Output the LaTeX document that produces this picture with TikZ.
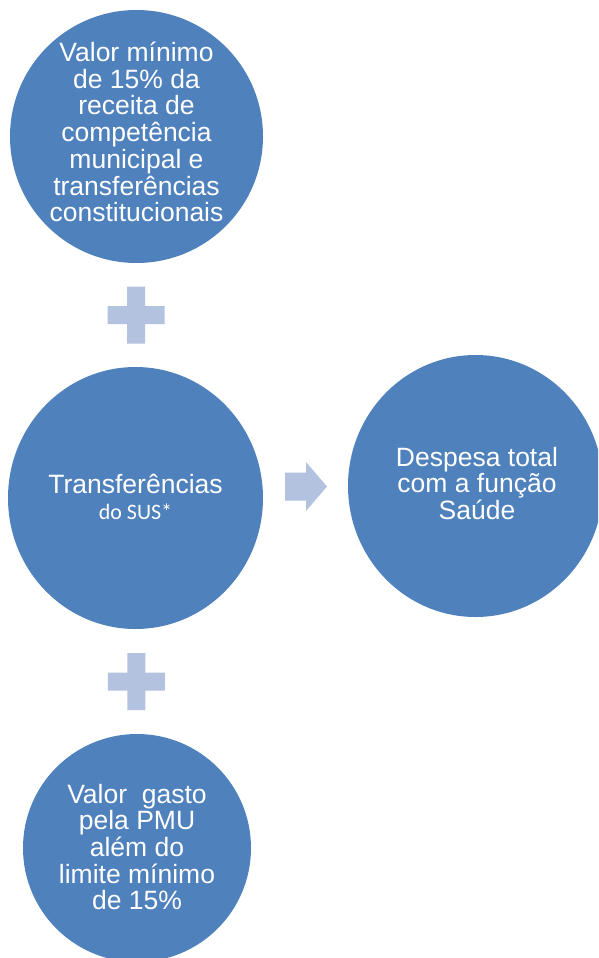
\documentclass[tikz,border=0pt]{standalone}
\usepackage{fontspec}
\setmainfont{Liberation Sans}
\newfontfamily\susfont{Carlito}
\usetikzlibrary{shapes.geometric,positioning,calc}
\definecolor{disc}{HTML}{4F81BD}
\definecolor{sign}{HTML}{B3C2DE}

\tikzset{
  discnode/.style={ellipse,fill=disc,draw=none,inner sep=0pt},
  lbl/.style={text=white,align=center,inner sep=0pt,font=\fontsize{26.5}{26.7}\selectfont},
  signfill/.style={fill=sign,draw=none}
}

\begin{document}
\begin{tikzpicture}[x=1pt,y=-1pt]
\useasboundingbox (0,0) rectangle (598,958);
\clip (0,0) rectangle (598,958);
% the four discs
\node[discnode,minimum width=253pt,minimum height=253pt] (minimo) at (136.5,136.5) {};
\node[discnode,minimum width=255pt,minimum height=262pt] (sus) at (135.5,498) {};
\node[discnode,minimum width=255pt,minimum height=262pt] (total) at (475.5,486) {};
\node[discnode,minimum width=228pt,minimum height=228pt] (alem) at (137,848) {};
% texts
\node[lbl] (minimo-txt) at ([yshift=4.5pt]minimo.center) {Valor mínimo\\de 15\% da\\receita de\\competência\\municipal e\\transferências\\constitucionais};
\node[lbl] (sus-txt) at ([yshift=1pt]sus.center) {Transferências\\{\susfont\fontsize{22}{22}\selectfont do SUS*}};
\node[lbl] (total-txt) at ([xshift=1.5pt,yshift=2.5pt]total.center) {Despesa total\\com a função\\Saúde};
\node[lbl] (alem-txt) at ([yshift=1pt]alem.center) {Valor\ \ gasto\\pela PMU\\além do\\limite mínimo\\de 15\%};
% plus signs and arrow
\coordinate (plus1) at ($(minimo.south)!.5!(sus.north)$);
\coordinate (plus2) at ($(sus.south)!.5!(alem.north)$);
\foreach \p in {plus1,plus2}{
  \fill[signfill] ($(\p)+(-9,-28.5)$) -- ++(18,0) -- ++(0,19.5) -- ++(19.5,0) -- ++(0,18)
    -- ++(-19.5,0) -- ++(0,19.5) -- ++(-18,0) -- ++(0,-19.5) -- ++(-19.5,0) -- ++(0,-18)
    -- ++(19.5,0) -- cycle;
}
\coordinate (arr) at (306,486.5);
\fill[signfill] ($(arr)+(-21,-14)$) -- ++(21,0) -- ++(0,-10.5) -- ++(21,24.5)
  -- ++(-21,24.5) -- ++(0,-10.5) -- ++(-21,0) -- cycle;
\end{tikzpicture}
\end{document}
